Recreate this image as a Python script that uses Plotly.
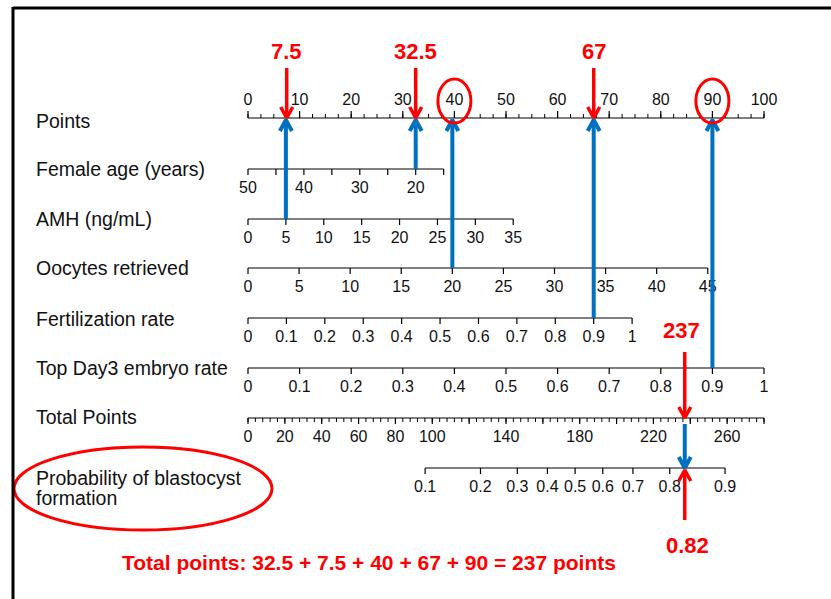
import numpy as np
import plotly.graph_objects as go

# ---------------- nomogram scales ----------------
row_names = ["Points", "Female age (years)", "AMH (ng/mL)", "Oocytes retrieved",
             "Fertilization rate", "Top Day3 embryo rate", "Total Points",
             "Probability of blastocyst<br>formation"]

points_ticks = list(range(0, 101, 10))
points_minor = [v / 2 for v in range(0, 201, 5)]          # every 2.5 points

age_ticks = [50, 45, 40, 35, 30, 25, 20, 15]
age_labels = [50, 40, 30, 20]
amh_ticks = [0, 5, 10, 15, 20, 25, 30, 35]
oocyte_ticks = [0, 5, 10, 15, 20, 25, 30, 35, 40, 45]
fert_ticks = [0, 0.1, 0.2, 0.3, 0.4, 0.5, 0.6, 0.7, 0.8, 0.9, 1]
top3_ticks = [0, 0.1, 0.2, 0.3, 0.4, 0.5, 0.6, 0.7, 0.8, 0.9, 1]
total_ticks = list(range(0, 281, 20))
total_minor = list(range(0, 281, 4))
total_labels = [0, 20, 40, 60, 80, 100, 140, 180, 220, 260]
prob_ticks = [0.1, 0.2, 0.3, 0.4, 0.5, 0.6, 0.7, 0.8, 0.9]

# model: points contributed per predictor value
AGE_REF, AGE_SLOPE = 50, 32.5 / 30      # points per year below 50
AMH_SLOPE = 51.4 / 35                   # points per ng/mL
OOCYTE_SLOPE = 89.1 / 45                # points per oocyte
FERT_SLOPE = 74.44                      # points per unit rate
TOP3_SLOPE = 100.0                      # points per unit rate
TOTAL_MAX = 280                         # total-points axis spans the 0-100 points width
LP_MID, LP_SLOPE = 177.5, 0.027         # total points at p=0.5, logit per total point

# worked example
patient_age, patient_amh, patient_oocytes = 20, 5, 20
patient_fert, patient_top3 = 0.9, 0.9
stated_points = [32.5, 7.5, 40, 67, 90]
stated_total = 237
stated_prob = 0.82


def age_pts(a):
    return (AGE_REF - np.asarray(a, float)) * AGE_SLOPE


def amh_pts(v):
    return np.asarray(v, float) * AMH_SLOPE


def oocyte_pts(v):
    return np.asarray(v, float) * OOCYTE_SLOPE


def fert_pts(v):
    return np.asarray(v, float) * FERT_SLOPE


def top3_pts(v):
    return np.asarray(v, float) * TOP3_SLOPE


def total_x(tp):
    return np.asarray(tp, float) * 100.0 / TOTAL_MAX


def prob_x(p):
    p = np.asarray(p, float)
    return total_x(LP_MID + np.log(p / (1 - p)) / LP_SLOPE)


# ---------------- page geometry ----------------
W, H = 831, 599
PX0, PX_PER_PT = 248.0, 5.16            # page x of 0 points, pixels per point
x_range = [(0 - PX0) / PX_PER_PT, (W - PX0) / PX_PER_PT]
xu = 1.0 / PX_PER_PT                    # one pixel in x data units

row_y = [118, 169, 219, 268, 318, 368, 418, 468]
label_y = [121, 169, 219, 268, 319, 368, 417, 478]
NAME_LINE_GAP = 20
LABEL_DY = 20

BLACK = "#000000"
RED = "#FF0000"
BLUE = "#0070C0"
TICK_FONT = dict(family="Liberation Sans, Arial, sans-serif", size=16, color="#111111")
NAME_FONT = dict(family="Liberation Sans, Arial, sans-serif", size=19.5, color="#111111")
RED_FONT = dict(family="Liberation Sans, Arial, sans-serif", size=21, color=RED)
RED_VALUE_FONT = dict(family="Liberation Sans, Arial, sans-serif", size=22, color=RED)

fig = go.Figure()


def seg_trace(xs0, xs1, ys0, ys1, color, width):
    xs, ys = [], []
    for a, b, c, d in zip(xs0, xs1, ys0, ys1):
        xs += [a, b, None]
        ys += [c, d, None]
    fig.add_trace(go.Scatter(x=xs, y=ys, mode="lines", hoverinfo="skip",
                             line=dict(color=color, width=width), showlegend=False))


def add_scale(y, tick_x, label_x, labels, minor_x=None, up=False,
              major_len=6, minor_len=4):
    sgn = -1 if up else 1
    lo, hi = float(np.min(tick_x)), float(np.max(tick_x))
    seg_trace([lo], [hi], [y], [y], BLACK, 1.2)
    seg_trace(tick_x, tick_x, [y] * len(tick_x), [y + sgn * major_len] * len(tick_x), BLACK, 1.2)
    if minor_x is not None:
        seg_trace(minor_x, minor_x, [y] * len(minor_x), [y + sgn * minor_len] * len(minor_x),
                  BLACK, 1.0)
    ly = y - 17 if up else y + LABEL_DY
    fig.add_trace(go.Scatter(x=list(label_x), y=[ly] * len(label_x), mode="text",
                             text=[f"{v:g}" for v in labels], textfont=TICK_FONT,
                             textposition="middle center", hoverinfo="skip",
                             showlegend=False))


# Points
add_scale(row_y[0], points_ticks, points_ticks, points_ticks,
          minor_x=points_minor, up=True, major_len=7, minor_len=4)
# Female age
add_scale(row_y[1], age_pts(age_ticks), age_pts(age_labels), age_labels)
# AMH
add_scale(row_y[2], amh_pts(amh_ticks), amh_pts(amh_ticks), amh_ticks)
# Oocytes
add_scale(row_y[3], oocyte_pts(oocyte_ticks), oocyte_pts(oocyte_ticks), oocyte_ticks)
# Fertilization rate
add_scale(row_y[4], fert_pts(fert_ticks), fert_pts(fert_ticks), fert_ticks)
# Top Day3 embryo rate
add_scale(row_y[5], top3_pts(top3_ticks), top3_pts(top3_ticks), top3_ticks)
# Total points
add_scale(row_y[6], total_x(total_ticks), total_x(total_labels), total_labels,
          minor_x=total_x(total_minor), major_len=6, minor_len=4)
# Probability
add_scale(row_y[7], prob_x(prob_ticks), prob_x(prob_ticks), prob_ticks)


def arrow(x, y_tail, y_tip, color, width, wing_w=6, wing_h=11):
    d = 1 if y_tip > y_tail else -1       # +1 pointing down the page
    xs = [x, x, None, x - wing_w * xu, x, x + wing_w * xu]
    ys = [y_tail, y_tip, None, y_tip - d * wing_h, y_tip, y_tip - d * wing_h]
    fig.add_trace(go.Scatter(x=xs, y=ys, mode="lines", hoverinfo="skip",
                             line=dict(color=color, width=width), showlegend=False))


# blue arrows: predictor value up to the Points scale
tip_up = row_y[0] + 2
arrow(float(amh_pts(patient_amh)), row_y[2], tip_up, BLUE, 4)
arrow(float(age_pts(patient_age)), row_y[1], tip_up, BLUE, 4)
arrow(float(oocyte_pts(patient_oocytes)), row_y[3], tip_up, BLUE, 4)
arrow(float(fert_pts(patient_fert)), row_y[4], tip_up, BLUE, 4)
arrow(float(top3_pts(patient_top3)), row_y[5], tip_up, BLUE, 4)
# total points down to the probability scale
tx = float(total_x(stated_total))
arrow(tx, row_y[6] + 6, row_y[7], BLUE, 4)

# red arrows with the read-off values
for pts in [7.5, 32.5, 67]:
    arrow(pts, 68, row_y[0], RED, 3.5)
arrow(tx, 352, row_y[6], RED, 3.5)
arrow(tx, 520, row_y[7] + 2, RED, 3.5)

annotations = []
for pts in [7.5, 32.5, 67]:
    annotations.append(dict(x=pts, y=51, xref="x", yref="y", text=f"<b>{pts:g}</b>",
                            showarrow=False, font=RED_VALUE_FONT))
annotations.append(dict(x=tx - 0.6, y=330, xref="x", yref="y", text=f"<b>{stated_total}</b>",
                        showarrow=False, font=RED_VALUE_FONT))
annotations.append(dict(x=tx + 0.6, y=545, xref="x", yref="y", text=f"<b>{stated_prob:g}</b>",
                        showarrow=False, font=RED_VALUE_FONT))
summary = " + ".join(f"{v:g}" for v in stated_points)
annotations.append(dict(x=369 / W, y=562, xref="paper", yref="y",
                        text=f"<b>Total points: {summary} = {stated_total} points</b>",
                        showarrow=False, font=RED_FONT))

# row names (multi-line names drawn line by line for tight spacing)
for name, y in zip(row_names, label_y):
    for k, line in enumerate(name.split("<br>")):
        annotations.append(dict(x=34 / W, y=y + k * NAME_LINE_GAP, xref="paper", yref="y",
                                text=line, showarrow=False, xanchor="left",
                                yanchor="middle", align="left", font=NAME_FONT))

shapes = []
# circled point values
for pts in [40, 90]:
    shapes.append(dict(type="circle", xref="x", yref="y",
                       x0=pts - 16.5 * xu, x1=pts + 16.5 * xu, y0=79, y1=123,
                       line=dict(color=RED, width=3)))
# circled outcome label
shapes.append(dict(type="circle", xref="paper", yref="y", x0=14 / W, x1=272 / W,
                   y0=447, y1=530, line=dict(color=RED, width=3)))
# frame
shapes.append(dict(type="line", xref="paper", yref="paper", x0=13 / W, x1=13 / W,
                   y0=1 - 7 / H, y1=0, line=dict(color=BLACK, width=3)))
shapes.append(dict(type="line", xref="paper", yref="paper", x0=13 / W, x1=1,
                   y0=1 - 8 / H, y1=1 - 8 / H, line=dict(color=BLACK, width=3)))

fig.update_layout(
    width=W, height=H,
    margin=dict(l=0, r=0, t=0, b=0),
    paper_bgcolor="white", plot_bgcolor="white",
    xaxis=dict(range=x_range, visible=False, fixedrange=True),
    yaxis=dict(range=[H, 0], visible=False, fixedrange=True),
    annotations=annotations, shapes=shapes, showlegend=False,
)

fig.write_html("out.html")
